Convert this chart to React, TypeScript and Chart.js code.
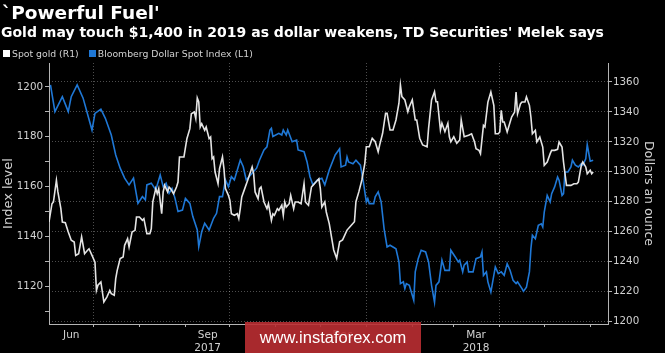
import React, { useEffect, useRef } from 'react';
import { Chart, registerables } from 'chart.js';

Chart.register(...registerables);

const TITLE = "`Powerful Fuel'";
const SUBTITLE = "Gold may touch $1,400 in 2019 as dollar weakens, TD Securities' Melek says";
const GOLD_LABEL = 'Spot gold (R1)';
const DOLLAR_LABEL = 'Bloomberg Dollar Spot Index (L1)';
const LEFT_TITLE = 'Index level';
const RIGHT_TITLE = 'Dollars an ounce';

// x values: days since 2017-06-01
const goldDays = [
  0, 2, 3, 5, 6, 8, 9, 11, 13, 15,
  17, 18, 20, 22, 24, 26, 27, 29, 31, 32,
  33, 35, 37, 39, 41, 42, 44, 45, 46, 48,
  50, 51, 53, 54, 56, 58, 59, 61, 63, 64,
  66, 68, 69, 70, 72, 73, 74, 76, 77, 78,
  80, 81, 82, 84, 86, 87, 88, 91, 93, 95,
  96, 98, 99, 100, 101, 102, 103, 105, 106, 108,
  109, 110, 111, 112, 114, 115, 117, 118, 119, 121,
  122, 123, 125, 127, 128, 129, 130, 132, 134, 137,
  138, 139, 141, 142, 143, 145, 147, 148, 150, 151,
  152, 154, 155, 157, 158, 159, 160, 162, 163, 165,
  166, 168, 170, 172, 173, 174, 175, 177, 178, 179,
  182, 183, 184, 186, 187, 189, 192, 194, 196, 198,
  201, 203, 206, 207, 209, 211, 213, 214, 216, 218,
  220, 222, 223, 225, 227, 228, 230, 232, 234, 236,
  237, 238, 240, 242, 243, 245, 247, 248, 250, 252,
  255, 256, 258, 260, 261, 262, 264, 265, 267, 269,
  270, 271, 273, 275, 277, 278, 280, 283, 285, 287,
  288, 290, 291, 293, 294, 296, 298, 300, 301, 303,
  304, 305, 306, 307, 309, 311, 312, 314, 315, 316,
  318, 319, 321, 322, 324, 325, 326, 328, 329, 331,
  333, 334, 336, 338, 339, 341, 343, 344, 346, 347,
  349, 350, 352, 354, 356, 357, 358, 359, 360, 362,
  363, 365, 366, 367,
];

const goldValues = [
  1266.4, 1278.6, 1279.8, 1294.3, 1286.5, 1275.3, 1266.4, 1265.9, 1259.7, 1254.2,
  1253.0, 1244.1, 1245.2, 1256.4, 1245.2, 1247.5, 1248.5, 1244.1, 1239.6, 1220.7,
  1224.1, 1226.3, 1212.9, 1216.2, 1220.7, 1218.5, 1217.4, 1228.5, 1234.1, 1241.9,
  1243.0, 1250.8, 1255.2, 1249.7, 1259.7, 1260.8, 1269.7, 1269.7, 1267.5, 1268.6,
  1258.6, 1258.6, 1261.9, 1279.8, 1288.7, 1285.3, 1288.7, 1271.9, 1286.5, 1290.9,
  1286.5, 1289.8, 1288.7, 1285.3, 1289.8, 1293.1, 1309.9, 1309.9, 1322.1, 1328.8,
  1338.8, 1339.9, 1335.5, 1349.3, 1346.6, 1329.9, 1332.1, 1327.7, 1329.9, 1322.1,
  1323.2, 1308.7, 1309.9, 1299.8, 1292.0, 1302.0, 1309.9, 1302.0, 1288.7, 1284.2,
  1280.9, 1271.9, 1270.9, 1271.9, 1268.6, 1275.3, 1283.1, 1288.7, 1294.3, 1303.2,
  1298.7, 1286.5, 1282.0, 1288.7, 1289.8, 1279.8, 1275.3, 1278.6, 1267.5, 1271.9,
  1270.9, 1275.3, 1274.2, 1277.6, 1270.9, 1279.8, 1276.4, 1278.6, 1284.2, 1275.3,
  1279.8, 1279.8, 1278.6, 1292.0, 1279.8, 1278.6, 1277.6, 1289.8, 1290.9, 1292.0,
  1295.3, 1288.7, 1276.4, 1279.8, 1273.1, 1265.3, 1247.7, 1242.1, 1253.2, 1254.4,
  1261.0, 1263.2, 1266.6, 1280.0, 1286.7, 1294.5, 1305.6, 1316.7, 1316.7, 1322.4,
  1320.1, 1313.4, 1317.9, 1325.7, 1339.1, 1339.1, 1327.9, 1327.9, 1334.6, 1345.8,
  1358.0, 1350.2, 1348.0, 1340.1, 1343.5, 1348.0, 1334.6, 1334.6, 1322.4, 1317.9,
  1316.7, 1329.0, 1348.0, 1353.5, 1346.8, 1346.8, 1327.9, 1332.4, 1326.8, 1332.4,
  1323.4, 1320.1, 1323.4, 1319.0, 1321.2, 1334.6, 1323.4, 1324.4, 1325.4, 1319.9,
  1315.4, 1314.3, 1312.1, 1331.0, 1329.9, 1346.6, 1353.3, 1344.4, 1325.4, 1325.4,
  1326.6, 1341.1, 1333.3, 1333.3, 1326.6, 1333.3, 1336.6, 1339.9, 1353.3, 1338.8,
  1345.5, 1346.6, 1346.6, 1350.0, 1344.4, 1336.6, 1325.4, 1327.7, 1319.9, 1323.2,
  1316.5, 1304.3, 1306.5, 1312.1, 1314.3, 1314.3, 1315.0, 1319.9, 1316.5, 1306.5,
  1290.9, 1290.9, 1290.9, 1292.0, 1292.0, 1293.1, 1298.7, 1304.3, 1306.5, 1303.2,
  1298.7, 1301.0, 1298.7, 1299.8,
];

const dollarDays = [
  1, 4, 9, 13, 15, 19, 23, 29, 31, 35,
  38, 42, 45, 48, 51, 54, 57, 60, 63, 65,
  66, 69, 72, 75, 77, 79, 81, 83, 85, 87,
  90, 92, 95, 97, 100, 101, 103, 105, 108, 111,
  113, 115, 117, 119, 121, 123, 125, 129, 131, 133,
  137, 140, 142, 145, 147, 149, 150, 151, 155, 157,
  158, 160, 161, 164, 167, 168, 172, 174, 176, 178,
  181, 184, 186, 189, 193, 196, 197, 200, 201, 202,
  205, 207, 210, 212, 214, 215, 216, 219, 220, 222,
  224, 226, 228, 230, 232, 234, 236, 237, 239, 240,
  241, 243, 246, 247, 249, 251, 254, 256, 258, 260,
  261, 263, 265, 267, 270, 271, 274, 276, 277, 279,
  280, 282, 283, 286, 288, 291, 292, 293, 295, 296,
  298, 301, 303, 305, 307, 309, 311, 313, 315, 316,
  319, 320, 322, 324, 325, 326, 328, 330, 332, 333,
  334, 336, 338, 339, 341, 343, 344, 346, 347, 348,
  350, 352, 353, 355, 357, 359, 360, 362, 363, 365, 367,
];

const dollarValues = [
  1200.8, 1190.1, 1196.1, 1190.1, 1196.1, 1200.8, 1195.5, 1182.7, 1189.4, 1191.1,
  1187.4, 1180.7, 1172.7, 1167.4, 1163.4, 1160.7, 1163.4, 1153.3, 1156.0, 1154.7,
  1160.7, 1161.4, 1158.7, 1164.7, 1160.0, 1161.4, 1157.3, 1159.3, 1155.3, 1150.0,
  1150.6, 1155.3, 1153.3, 1148.0, 1142.6, 1135.9, 1141.9, 1145.3, 1142.6, 1147.3,
  1149.3, 1156.0, 1156.0, 1162.7, 1160.0, 1164.0, 1162.7, 1170.7, 1168.0, 1162.7,
  1165.4, 1167.4, 1170.7, 1174.7, 1176.0, 1182.7, 1183.4, 1180.1, 1181.4, 1180.7,
  1182.7, 1180.7, 1182.7, 1178.0, 1178.7, 1174.7, 1174.0, 1170.0, 1164.0, 1160.7,
  1162.7, 1163.4, 1160.7, 1166.7, 1172.7, 1175.2, 1167.9, 1168.6, 1171.9, 1169.9,
  1169.2, 1170.6, 1168.6, 1161.9, 1153.9, 1155.2, 1153.2, 1153.2, 1155.9, 1157.9,
  1153.9, 1143.1, 1135.8, 1136.5, 1135.8, 1135.1, 1129.8, 1121.1, 1121.8, 1119.1,
  1121.1, 1120.4, 1114.4, 1125.8, 1131.1, 1134.5, 1133.8, 1129.8, 1120.4, 1113.7,
  1120.4, 1121.8, 1130.5, 1126.4, 1126.4, 1134.5, 1131.8, 1129.8, 1130.5, 1125.8,
  1128.5, 1129.8, 1125.8, 1125.8, 1131.1, 1131.8, 1133.8, 1124.4, 1125.8, 1121.8,
  1117.7, 1127.8, 1125.1, 1125.8, 1124.4, 1129.1, 1126.4, 1122.4, 1121.1, 1121.8,
  1119.1, 1118.0, 1119.7, 1125.8, 1135.1, 1140.5, 1139.1, 1144.5, 1145.1, 1143.8,
  1149.8, 1156.5, 1153.9, 1157.2, 1159.9, 1163.9, 1162.6, 1156.5, 1157.2, 1165.9,
  1165.9, 1167.9, 1170.6, 1168.6, 1167.9, 1169.2, 1168.6, 1171.2, 1176.8, 1170.2, 1170.6,
];

// axis ticks (days since 2017-06-01)
const monthStartDays = [30, 61, 92, 122, 153, 183, 214, 245, 273, 304, 334, 365];
const quarterStartDays = [30, 122, 214, 304];
const monthLabelDays = [15, 107, 198, 288];
const monthLabels = [['Jun'], ['Sep', '2017'], ['Dec'], ['Mar', '2018']];

const dollarTicks = [1110, 1120, 1130, 1140, 1150, 1160, 1170, 1180, 1190, 1200];
const goldTicks = [1200, 1210, 1220, 1230, 1240, 1250, 1260, 1270, 1280, 1290, 1300, 1310, 1320, 1330, 1340, 1350, 1360, 1370];

const GOLD_COLOR = '#e4e4e4';
const DOLLAR_COLOR = '#1f78d6';
const TEXT_COLOR = '#d2d2d2';
const AXIS_COLOR = '#b4b4b4';
const GRID_COLOR = 'rgba(255,255,255,0.3)';
const FONT = '"DejaVu Sans", "Liberation Sans", sans-serif';

export default function App() {
  const canvasRef = useRef<HTMLCanvasElement | null>(null);

  useEffect(() => {
    const canvas = canvasRef.current;
    if (!canvas) return;
    Chart.defaults.font.family = FONT;
    const chart = new Chart(canvas, {
      type: 'line',
      data: {
        datasets: [
          {
            label: GOLD_LABEL,
            data: goldDays.map((d, i) => ({ x: d, y: goldValues[i] })),
            yAxisID: 'yR',
            borderColor: GOLD_COLOR,
            borderWidth: 1.6,
            pointRadius: 0,
            tension: 0,
          },
          {
            label: DOLLAR_LABEL,
            data: dollarDays.map((d, i) => ({ x: d, y: dollarValues[i] })),
            yAxisID: 'yL',
            borderColor: DOLLAR_COLOR,
            borderWidth: 1.6,
            pointRadius: 0,
            tension: 0,
          },
        ],
      },
      options: {
        animation: false,
        responsive: false,
        devicePixelRatio: 1,
        layout: { padding: { top: 63, left: 0, right: 0, bottom: 0 } },
        plugins: {
          legend: { display: false },
          tooltip: { enabled: false },
        },
        scales: {
          x: {
            type: 'linear',
            position: 'bottom',
            min: 0,
            max: 377,
            afterBuildTicks: (s: any) => {
              s.ticks = [...monthStartDays, ...monthLabelDays]
                .sort((a, b) => a - b)
                .map((v) => ({ value: v }));
            },
            afterFit: (s: any) => {
              s.height = 29;
            },
            ticks: {
              autoSkip: false,
              maxRotation: 0,
              minRotation: 0,
              padding: 2,
              color: TEXT_COLOR,
              font: { size: 10.5 },
              callback: (v: any) => {
                const i = monthLabelDays.indexOf(Number(v));
                return i >= 0 ? monthLabels[i] : '';
              },
            },
            grid: {
              drawOnChartArea: true,
              color: (c: any) => (c.tick && quarterStartDays.includes(c.tick.value) ? GRID_COLOR : 'rgba(0,0,0,0)'),
              tickColor: (c: any) => (c.tick && monthStartDays.includes(c.tick.value) ? AXIS_COLOR : 'rgba(0,0,0,0)'),
              tickLength: 3,
              lineWidth: 1,
            },
            border: { display: true, color: AXIS_COLOR, width: 1, dash: [1, 2] },
          },
          yL: {
            type: 'linear',
            position: 'left',
            min: 1104.9,
            max: 1209.6,
            afterBuildTicks: (s: any) => {
              s.ticks = dollarTicks.map((v) => ({ value: v }));
            },
            afterFit: (s: any) => {
              s.width = 49;
            },
            ticks: {
              padding: 2,
              color: TEXT_COLOR,
              font: { size: 10.3 },
              callback: (v: any) => (Number(v) % 20 === 0 ? String(v) : ''),
            },
            grid: {
              drawOnChartArea: false,
              tickColor: AXIS_COLOR,
              tickLength: 4,
            },
            border: { display: true, color: AXIS_COLOR, width: 1 },
            title: {
              display: true,
              text: LEFT_TITLE,
              color: TEXT_COLOR,
              font: { size: 13 },
              padding: { top: 0.5, bottom: 0 },
            },
          },
          yR: {
            type: 'linear',
            position: 'right',
            min: 1198.2,
            max: 1372.7,
            afterBuildTicks: (s: any) => {
              s.ticks = goldTicks.map((v) => ({ value: v }));
            },
            afterFit: (s: any) => {
              s.width = 57;
            },
            ticks: {
              padding: 1,
              color: TEXT_COLOR,
              font: { size: 10.3 },
              callback: (v: any) => (Number(v) % 20 === 0 ? String(v) : ''),
            },
            grid: {
              drawOnChartArea: true,
              color: (c: any) => (c.tick && c.tick.value % 20 === 0 ? GRID_COLOR : 'rgba(0,0,0,0)'),
              tickColor: AXIS_COLOR,
              tickLength: 4,
            },
            border: { display: true, color: AXIS_COLOR, width: 1, dash: [1, 2] },
            title: {
              display: true,
              text: RIGHT_TITLE,
              color: TEXT_COLOR,
              font: { size: 12.5 },
              padding: { top: 9, bottom: 0 },
            },
          },
        },
      },
    } as any);
    return () => chart.destroy();
  }, []);

  const sq = (color: string) => ({
    display: 'inline-block',
    width: 7,
    height: 7,
    background: color,
    marginRight: 2,
    verticalAlign: 'baseline',
  });

  return (
    <div
      style={{
        position: 'fixed',
        left: 0,
        top: 0,
        width: 665,
        height: 353,
        background: '#000',
        overflow: 'hidden',
        fontFamily: FONT,
      }}
    >
      <canvas ref={canvasRef} width={665} height={353} style={{ position: 'absolute', left: 0, top: 0 }} />
      <div style={{ position: 'absolute', left: 2, top: 4, fontSize: 18.5, lineHeight: 1, fontWeight: 'bold', color: '#fff', whiteSpace: 'nowrap' }}>
        {TITLE}
      </div>
      <div style={{ position: 'absolute', left: 1, top: 24.5, fontSize: 14, lineHeight: 1, fontWeight: 'bold', color: '#fff', whiteSpace: 'nowrap' }}>
        {SUBTITLE}
      </div>
      <div style={{ position: 'absolute', left: 3, top: 49, fontSize: 9.3, lineHeight: 1, color: TEXT_COLOR, whiteSpace: 'nowrap' }}>
        <span style={sq('#ffffff')} />
        <span>{GOLD_LABEL}</span>
        <span style={{ ...sq(DOLLAR_COLOR), marginLeft: 10 }} />
        <span>{DOLLAR_LABEL}</span>
      </div>
      <div
        style={{
          position: 'absolute',
          left: 245,
          top: 322,
          width: 176,
          height: 31,
          background: 'rgba(186,46,50,0.9)',
          color: '#fff',
          fontFamily: '"Liberation Sans", Arial, sans-serif',
          fontSize: 16.5,
          lineHeight: '31px',
          textAlign: 'center',
          whiteSpace: 'nowrap',
        }}
      >
        www.instaforex.com
      </div>
    </div>
  );
}
